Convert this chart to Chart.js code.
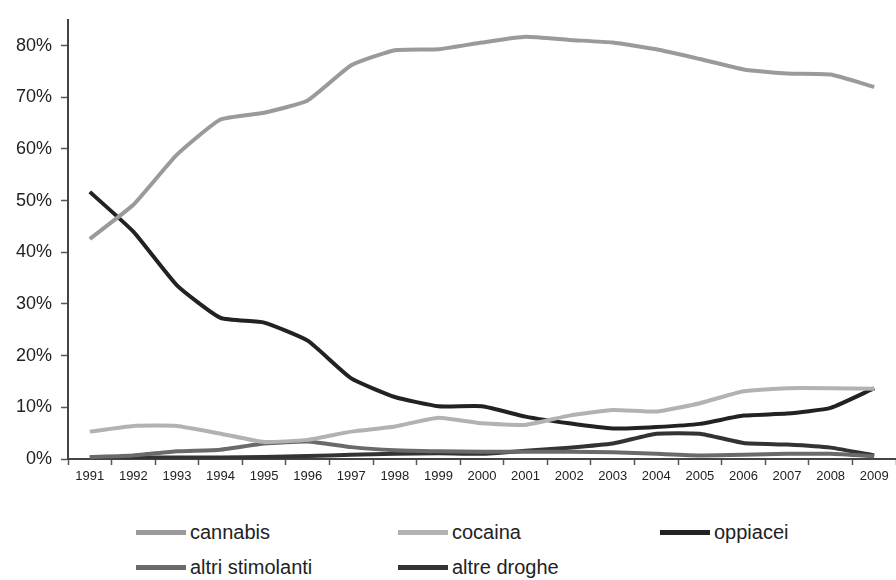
<!DOCTYPE html>
<html>
<head>
<meta charset="utf-8">
<script src="https://cdn.jsdelivr.net/npm/chart.js@4/dist/chart.umd.min.js"></script>
<style>
  html, body { margin: 0; padding: 0; background: #fff; }
  #wrap { position: relative; width: 896px; height: 580px; }
  #chartBox { position: absolute; left: 0; top: 0; width: 896px; height: 500px; }
  .legend-item {
    position: absolute;
    font-family: "Liberation Sans", Arial, sans-serif;
    font-size: 20px;
    color: #222;
    line-height: 22px;
    white-space: nowrap;
  }
  .legend-item span.swatch {
    display: inline-block;
    width: 50px;
    height: 5px;
    vertical-align: middle;
    margin-right: 4px;
    position: relative;
    top: -1px;
  }
</style>
</head>
<body>
<div id="wrap">
  <div id="chartBox"><canvas id="drugChart"></canvas></div>
  <div id="legend"></div>
</div>
<script>
// Years on the x axis
const years = ['1991', '1992', '1993', '1994', '1995', '1996', '1997', '1998', '1999', '2000',
  '2001', '2002', '2003', '2004', '2005', '2006', '2007', '2008', '2009'];

// Shares in percent
const cannabis = [42.6, 49.2, 58.9, 65.7, 67.0, 69.4, 76.2, 79.1, 79.3, 80.6,
  81.7, 81.1, 80.6, 79.3, 77.4, 75.4, 74.6, 74.4, 72.0];
const cocaina = [5.3, 6.4, 6.4, 4.9, 3.3, 3.7, 5.3, 6.3, 8.0, 6.9,
  6.6, 8.4, 9.5, 9.2, 10.8, 13.1, 13.7, 13.7, 13.6];
const oppiacei = [51.7, 44.0, 33.6, 27.3, 26.4, 22.9, 15.6, 12.0, 10.2, 10.2,
  8.2, 6.9, 5.9, 6.2, 6.8, 8.4, 8.8, 9.9, 13.7];
const altriStimolanti = [0.4, 0.7, 1.5, 1.8, 3.0, 3.4, 2.3, 1.7, 1.5, 1.4,
  1.4, 1.4, 1.3, 1.0, 0.7, 0.8, 1.0, 1.0, 0.5];
const altreDroghe = [0.3, 0.3, 0.3, 0.3, 0.4, 0.6, 0.8, 1.0, 1.1, 1.0,
  1.6, 2.2, 3.0, 4.9, 4.9, 3.1, 2.8, 2.2, 0.7];

const seriesNames = ['cannabis', 'cocaina', 'oppiacei', 'altri stimolanti', 'altre droghe'];
const seriesColors = ['#9a9a9a', '#b2b2b2', '#222222', '#6a6a6a', '#333333'];
const seriesData = [cannabis, cocaina, oppiacei, altriStimolanti, altreDroghe];

// y ticks every 10%, axis goes a little above 80%
const yTicks = [0, 10, 20, 30, 40, 50, 60, 70, 80];

const datasets = seriesNames.map((name, i) => ({
  label: name,
  data: seriesData[i],
  borderColor: seriesColors[i],
  backgroundColor: seriesColors[i],
  borderWidth: 4,
  pointRadius: 0,
  tension: 0.15,
  fill: false,
}));

new Chart(document.getElementById('drugChart'), {
  type: 'line',
  data: { labels: years, datasets: datasets },
  options: {
    responsive: true,
    maintainAspectRatio: false,
    animation: false,
    layout: { padding: { top: 17, right: 0, bottom: 0, left: 0 } },
    plugins: {
      legend: { display: false },
      tooltip: { enabled: false },
    },
    scales: {
      x: {
        offset: true,
        grid: {
          offset: true,
          drawOnChartArea: false,
          drawTicks: true,
          tickLength: 6,
          tickColor: '#555',
          tickWidth: 1.5,
        },
        border: { display: true, color: '#444', width: 2 },
        ticks: {
          color: '#222',
          autoSkip: false,
          maxRotation: 0,
          padding: 4,
          font: { family: '"Liberation Sans", Arial, sans-serif', size: 13 },
        },
        afterFit(scale) { scale.height = 41; },
      },
      y: {
        min: 0,
        max: 85,
        grid: {
          drawOnChartArea: false,
          drawTicks: true,
          tickLength: 7,
          tickColor: '#555',
          tickWidth: 1.5,
        },
        border: { display: true, color: '#444', width: 2 },
        afterBuildTicks(scale) {
          scale.ticks = yTicks.map(v => ({ value: v }));
        },
        ticks: {
          color: '#222',
          padding: 9,
          callback: v => v + '%',
          font: { family: '"Liberation Sans", Arial, sans-serif', size: 18 },
        },
        afterFit(scale) { scale.width = 68; },
      },
    },
  },
});

// Legend laid out in two rows like the original
const legendSpots = [
  { x: 136, y: 521 },
  { x: 398, y: 521 },
  { x: 660, y: 521 },
  { x: 136, y: 556 },
  { x: 398, y: 556 },
];
const legendBox = document.getElementById('legend');
seriesNames.forEach((name, i) => {
  const item = document.createElement('div');
  item.className = 'legend-item';
  item.style.left = legendSpots[i].x + 'px';
  item.style.top = legendSpots[i].y + 'px';
  const swatch = document.createElement('span');
  swatch.className = 'swatch';
  swatch.style.background = seriesColors[i];
  item.appendChild(swatch);
  item.appendChild(document.createTextNode(name));
  legendBox.appendChild(item);
});
</script>
</body>
</html>
